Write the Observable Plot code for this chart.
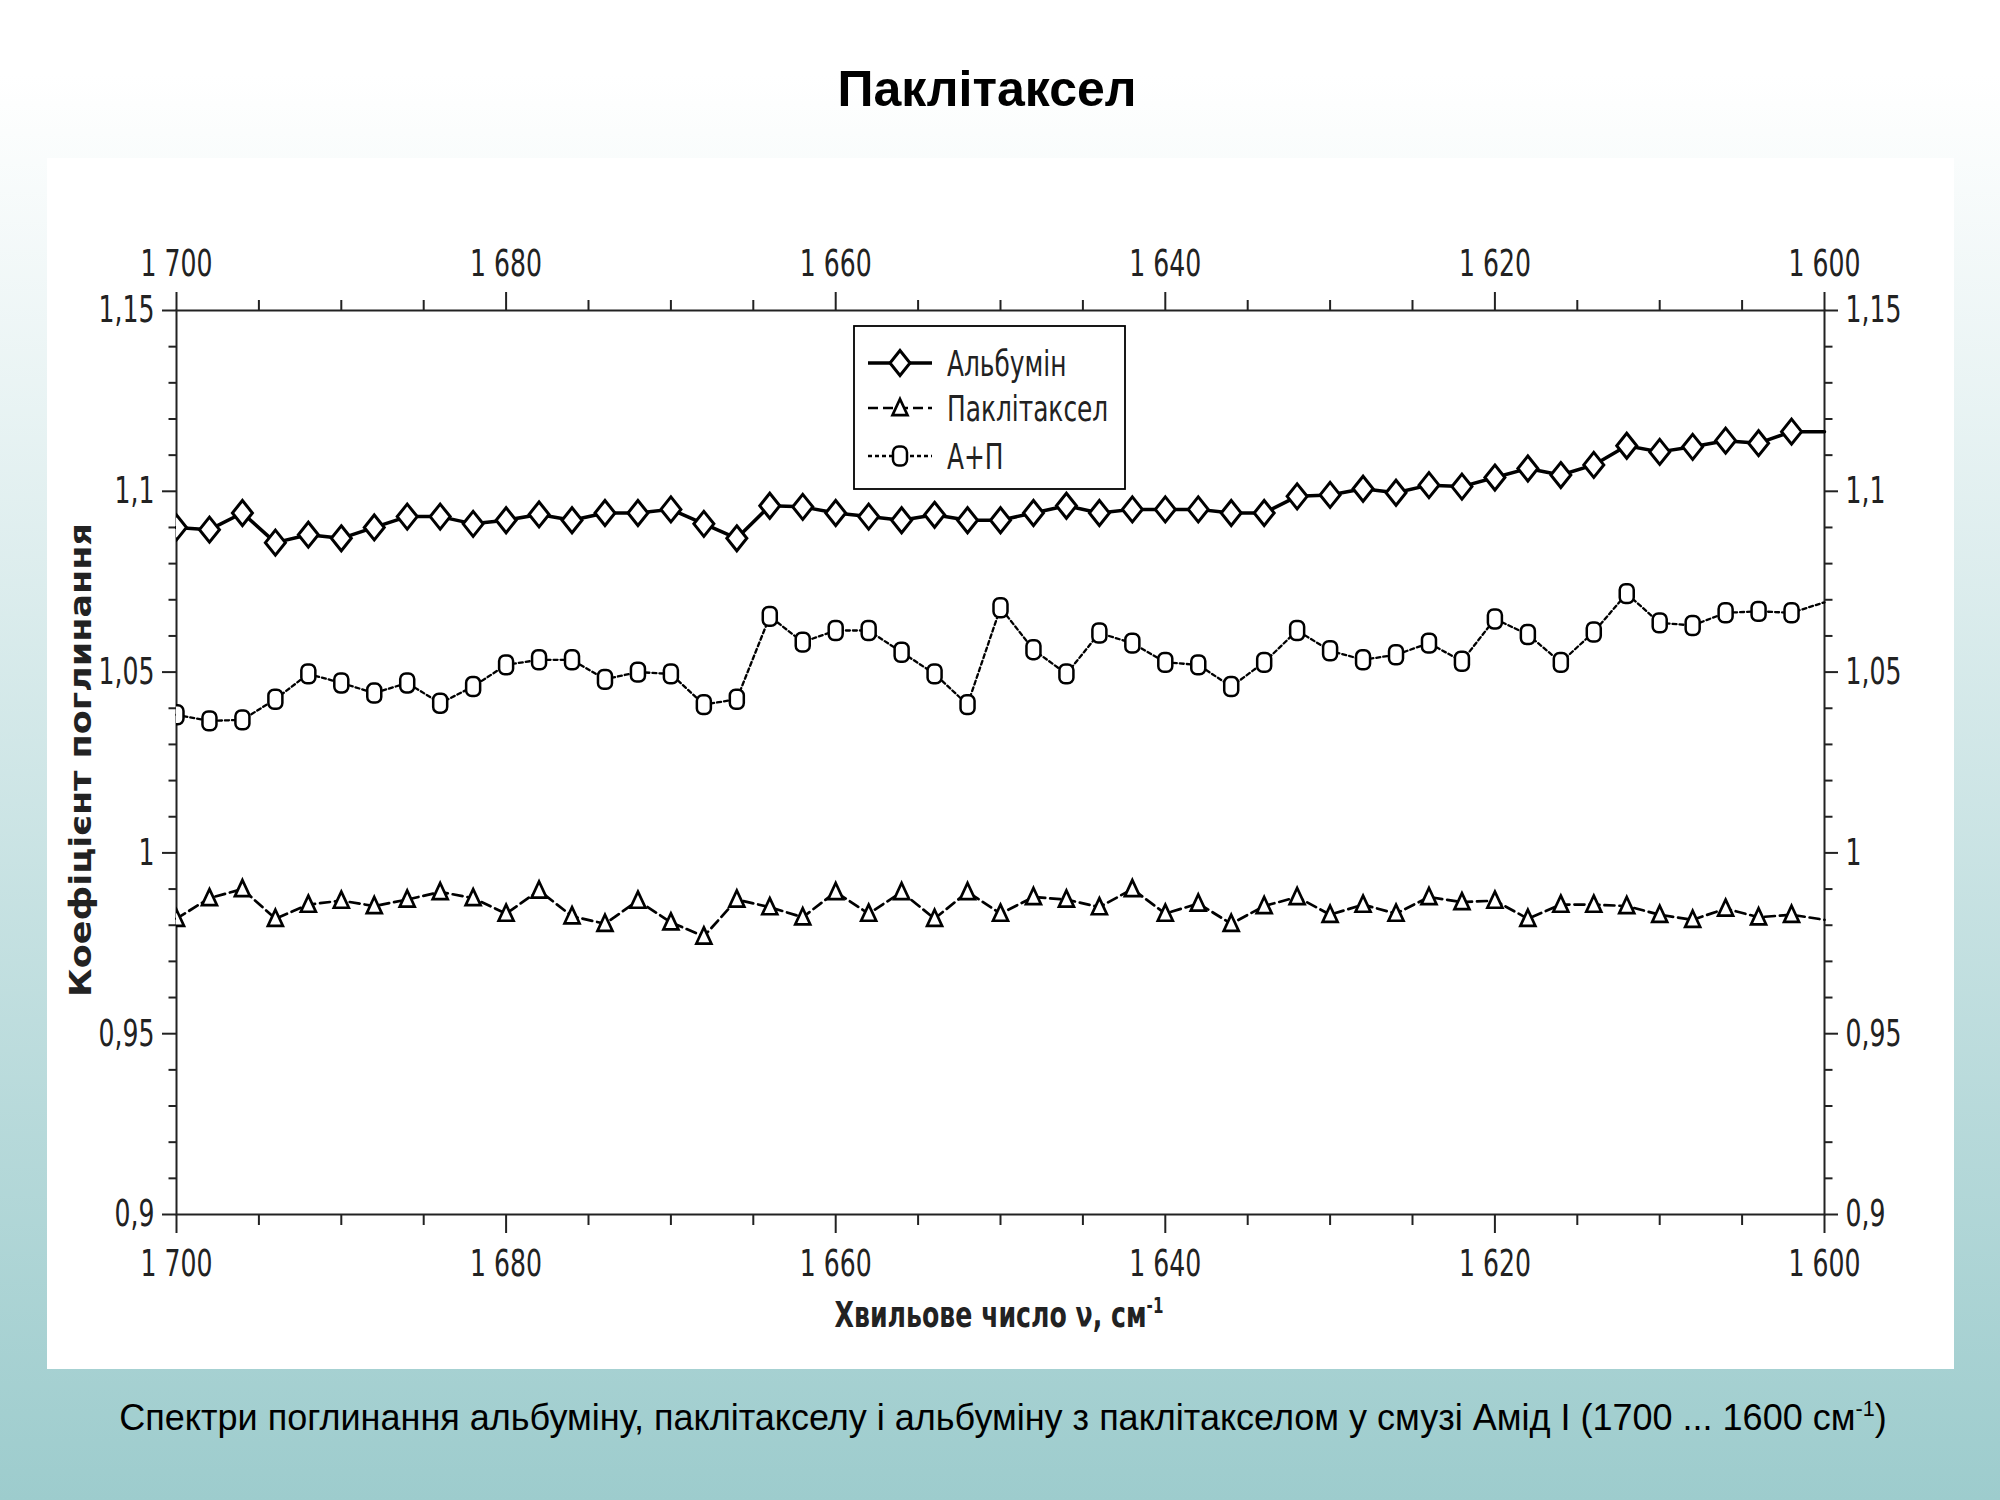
<!DOCTYPE html>
<html><head><meta charset="utf-8">
<script src="https://cdn.jsdelivr.net/npm/d3@7"></script>
<script src="https://cdn.jsdelivr.net/npm/@observablehq/plot@0.6"></script>
<style>
html,body{margin:0;padding:0;}
body{width:2000px;height:1500px;position:relative;overflow:hidden;background:linear-gradient(to bottom,#ffffff 0%,#ffffff 5%,#9dcccd 100%);}
#title{position:absolute;left:0;width:1974px;top:64px;text-align:center;font:bold 50px "Liberation Sans",Arial,sans-serif;line-height:1;color:#000;}
#panel{position:absolute;left:47px;top:158px;width:1907px;height:1211px;background:#fff;}
#chart{position:absolute;left:47px;top:158px;}
#ylab{position:absolute;left:81px;top:760px;transform:translate(-50%,-50%) rotate(-90deg) scaleY(0.85);white-space:nowrap;font:bold 35px "DejaVu Sans",sans-serif;color:#222;line-height:1;}
#xlab{position:absolute;left:999px;top:1315px;transform:translate(-50%,-50%) scaleX(0.70);white-space:nowrap;font-family:"DejaVu Sans",sans-serif;font-weight:bold;font-size:36px;color:#222;line-height:1;}
#xlab sup,#caption sup{font-size:60%;vertical-align:top;position:relative;top:-0.1em;}
#caption{position:absolute;left:0;width:2006px;top:1400px;text-align:center;font:36px "Liberation Sans",Arial,sans-serif;line-height:1;color:#000;white-space:nowrap;}
#legend{position:absolute;left:853px;top:325px;}
#legend svg{overflow:visible;}
</style></head>
<body>
<div id="title">Паклітаксел</div>
<div id="panel"></div>
<div id="chart"></div>
<div id="ylab">Коефіцієнт поглинання</div>
<div id="xlab">Хвильове число ν, см<sup>-1</sup></div>
<div id="legend"></div>
<div id="caption">Спектри поглинання альбуміну, паклітакселу і альбуміну з паклітакселом у смузі Амід І (1700 ... 1600 см<sup>-1</sup>)</div>
<script>
const wavenumbers = [1700,1698,1696,1694,1692,1690,1688,1686,1684,1682,1680,1678,1676,1674,1672,1670,1668,1666,1664,1662,1660,1658,1656,1654,1652,1650,1648,1646,1644,1642,1640,1638,1636,1634,1632,1630,1628,1626,1624,1622,1620,1618,1616,1614,1612,1610,1608,1606,1604,1602,1600];
const albumin = [1.090,1.0894,1.094,1.0858,1.088,1.087,1.090,1.093,1.093,1.091,1.092,1.0936,1.092,1.094,1.094,1.095,1.091,1.087,1.096,1.0957,1.094,1.093,1.092,1.0935,1.092,1.092,1.094,1.096,1.094,1.095,1.095,1.095,1.094,1.094,1.0986,1.099,1.1007,1.0996,1.1017,1.1013,1.1038,1.1063,1.1045,1.1073,1.1126,1.1109,1.1123,1.114,1.1133,1.1165,1.1165];
const paclitaxel = [0.9818,0.9875,0.990,0.9818,0.9857,0.9868,0.9853,0.9871,0.9892,0.9875,0.9832,0.9896,0.9825,0.9804,0.9868,0.9808,0.9769,0.9871,0.985,0.9822,0.9892,0.9832,0.9892,0.9818,0.9892,0.9832,0.9878,0.9871,0.985,0.990,0.9832,0.986,0.9804,0.9853,0.9878,0.9829,0.9857,0.9832,0.9878,0.9864,0.9868,0.9818,0.9857,0.9857,0.9853,0.9829,0.9815,0.9846,0.9822,0.9829,0.9815];
const mixture = [1.0382,1.0365,1.0368,1.0425,1.0495,1.047,1.0442,1.047,1.0414,1.046,1.052,1.0534,1.0534,1.048,1.050,1.0495,1.041,1.0425,1.0654,1.0583,1.0615,1.0615,1.0555,1.0495,1.041,1.0678,1.0562,1.0495,1.0608,1.058,1.0527,1.052,1.046,1.0527,1.0615,1.0559,1.0534,1.0548,1.058,1.053,1.0647,1.0604,1.0527,1.0611,1.0717,1.0636,1.0629,1.0664,1.0668,1.0664,1.0693];
const seriesNames = ["Альбумін","Паклітаксел","А+П"];
const xMajor = [1700,1680,1660,1640,1620,1600];
const xMinor = [1695,1690,1685,1675,1670,1665,1655,1650,1645,1635,1630,1625,1615,1610,1605];
const yMajor = [0.9,0.95,1,1.05,1.1,1.15];
const yMinor = [0.91,0.92,0.93,0.94,0.96,0.97,0.98,0.99,1.01,1.02,1.03,1.04,1.06,1.07,1.08,1.09,1.11,1.12,1.13,1.14];

const fmtX = d => d3.format(",")(d).replace(",", " ");
const fmtY = d => String(+d.toFixed(2)).replace(".", ",");

// custom symbols
const tallDiamond = {draw(ctx, size){const r=Math.sqrt(size/Math.PI);ctx.moveTo(0,-1.25*r);ctx.lineTo(r,0);ctx.lineTo(0,1.25*r);ctx.lineTo(-r,0);ctx.closePath();}};
const openTriangle = {draw(ctx, size){const r=Math.sqrt(size/Math.PI);ctx.moveTo(0,-1.2*r);ctx.lineTo(r,0.95*r);ctx.lineTo(-r,0.95*r);ctx.closePath();}};
const roundO = {draw(ctx, size){const r=Math.sqrt(size/Math.PI);const w=r,h=1.35*r,c=0.8*r;
  ctx.moveTo(-w+c,-h);ctx.lineTo(w-c,-h);ctx.arcTo(w,-h,w,-h+c,c);ctx.lineTo(w,h-c);ctx.arcTo(w,h,w-c,h,c);ctx.lineTo(-w+c,h);ctx.arcTo(-w,h,-w,h-c,c);ctx.lineTo(-w,-h+c);ctx.arcTo(-w,-h,-w+c,-h,c);ctx.closePath();}};

const rows = [];
wavenumbers.forEach((w,i)=>{
  rows.push({w, v: albumin[i], s: seriesNames[0]});
  rows.push({w, v: paclitaxel[i], s: seriesNames[1]});
  rows.push({w, v: mixture[i], s: seriesNames[2]});
});
const styles = {
  "Альбумін": {line:{strokeWidth:3.5}, sym: tallDiamond, r: 10, sw: 3},
  "Паклітаксел": {line:{strokeWidth:2.7, strokeDasharray:"10,5"}, sym: openTriangle, r: 7.5, sw: 2.7},
  "А+П": {line:{strokeWidth:2.3, strokeDasharray:"4,3"}, sym: roundO, r: 7, sw: 2.5}
};

const marks = [];
for (const name of seriesNames) {
  const st = styles[name];
  const data = rows.filter(d => d.s === name);
  marks.push(Plot.line(data, {x:"w", y:"v", stroke:"#000", ...st.line}));
  marks.push(Plot.dot(data.filter(d => d.w > 1600), {x:"w", y:"v", symbol: st.sym, r: st.r, fill:"#fff", stroke:"#000", strokeWidth: st.sw, clip: true}));
}

const chart = Plot.plot({
  width: 1907, height: 1211,
  marginLeft: 129, marginRight: 130, marginTop: 152, marginBottom: 155,
  style: {fontFamily: '"DejaVu Sans",sans-serif', fontSize: "37px", color: "#222", background: "transparent"},
  x: {domain: [1700, 1600]},
  y: {domain: [0.9, 1.15]},
  marks: [
    Plot.axisX(xMajor, {anchor:"bottom", tickSize:19, tickPadding:16, tickFormat: fmtX, label:null, strokeWidth:2}),
    Plot.axisX(xMinor, {anchor:"bottom", tickSize:11, text:null, label:null, strokeWidth:2}),
    Plot.axisX(xMajor, {anchor:"top", tickSize:19, tickPadding:16, tickFormat: fmtX, label:null, strokeWidth:2}),
    Plot.axisX(xMinor, {anchor:"top", tickSize:11, text:null, label:null, strokeWidth:2}),
    Plot.axisY(yMajor, {anchor:"left", tickSize:14, tickPadding:8, tickFormat: fmtY, label:null, strokeWidth:2}),
    Plot.axisY(yMinor, {anchor:"left", tickSize:7.5, text:null, label:null, strokeWidth:2}),
    Plot.axisY(yMajor, {anchor:"right", tickSize:13, tickPadding:8, tickFormat: fmtY, label:null, strokeWidth:2}),
    Plot.axisY(yMinor, {anchor:"right", tickSize:7.5, text:null, label:null, strokeWidth:2}),
    Plot.frame({stroke:"#222", strokeWidth:2}),
    ...marks
  ]
});
document.getElementById("chart").appendChild(chart);

// condense glyphs horizontally (the reference uses a condensed face) without moving anchors
function condense(el, sx) {
  const L = el.getComputedTextLength();
  if (L > 0) {
    el.setAttribute("textLength", (L * sx).toFixed(2));
    el.setAttribute("lengthAdjust", "spacingAndGlyphs");
  }
}
d3.select(chart).selectAll("text").each(function(){ condense(this, 0.68); });

// legend
const lg = d3.select("#legend").append("svg").attr("width", 380).attr("height", 167);
lg.append("rect").attr("x",1).attr("y",1).attr("width",271).attr("height",163).attr("fill","#fff").attr("stroke","#000").attr("stroke-width",1.8);
const rowY = [38, 83, 131];
seriesNames.forEach((name, i) => {
  const st = styles[name];
  const y = rowY[i];
  lg.append("line").attr("x1",15).attr("x2",79).attr("y1",y).attr("y2",y).attr("stroke","#000")
    .attr("stroke-width", st.line.strokeWidth).attr("stroke-dasharray", st.line.strokeDasharray || null);
  lg.append("path").attr("d", d3.symbol(st.sym, st.r*st.r*Math.PI)()).attr("transform",`translate(47,${y})`)
    .attr("fill","#fff").attr("stroke","#000").attr("stroke-width", st.sw);
  const t = lg.append("text").attr("x",94).attr("y",y).attr("dy","0.36em").text(name)
    .attr("font-family",'"DejaVu Sans",sans-serif')
    .attr("font-size",36).attr("fill","#222");
  condense(t.node(), 0.69);
});
</script>
</body></html>
